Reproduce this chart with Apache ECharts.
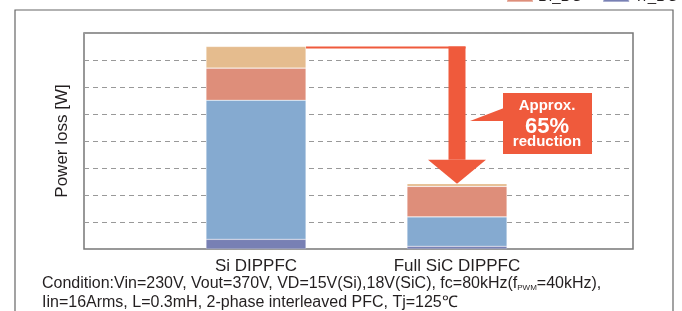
<!DOCTYPE html>
<html>
<head>
<meta charset="utf-8">
<script src="https://cdn.jsdelivr.net/npm/echarts@6/dist/echarts.min.js"></script>
<style>
  html, body { margin: 0; padding: 0; background: #fff; }
  #loss { width: 682px; height: 311px; }
</style>
</head>
<body>
<div id="loss"></div>
<script>
// 损耗对比（堆叠柱状图）
var categories = ['Si DIPPFC', 'Full SiC DIPPFC'];
var trDC = [0.36, 0.10];
var trSW = [5.15, 1.09];
var diDC = [1.19, 1.13];
var diSW = [0.80, 0.10];
var yTicks = [0, 1, 2, 3, 4, 5, 6, 7, 8];

var FONT = 'Liberation Sans';
var RED = '#ef5a3c';

function DrawLoss() {
    var chart = echarts.init(document.getElementById('loss'));
    function bar(name, data, color) {
        return {
            name: name,
            type: 'bar',
            stack: 'loss',
            xAxisIndex: 1,
            yAxisIndex: 1,
            barWidth: 100,
            itemStyle: { color: color, borderColor: 'rgba(255,255,255,0.35)', borderWidth: 0.6 },
            data: data
        };
    }
    var option = {
        animation: false,
        textStyle: { fontFamily: FONT },
        legend: {
            data: ['Di_DC', 'Tr_DC'],
            orient: 'horizontal',
            left: 506,
            top: -11,
            padding: 0,
            width: 176,
            itemWidth: 26,
            itemHeight: 11,
            itemGap: 20,
            icon: 'rect',
            textStyle: { fontSize: 15, color: '#231f20', fontFamily: FONT }
        },
        grid: [
            // 外框 + 网格线
            { left: 84, right: 49, top: 33, bottom: 62, show: true, borderColor: '#777', borderWidth: 1.5 },
            // 柱子所在区域
            { left: 155.5, right: 124.5, top: 33, bottom: 62 }
        ],
        xAxis: [
            { type: 'category', gridIndex: 0, data: categories, show: false },
            {
                type: 'category', gridIndex: 1, data: categories,
                axisLine: { show: false },
                axisTick: { show: false },
                axisLabel: { fontSize: 17, color: '#231f20', margin: 9 }
            }
        ],
        yAxis: [
            {
                type: 'value', gridIndex: 0,
                min: yTicks[0], max: yTicks[yTicks.length - 1], interval: 1,
                name: 'Power loss [W]',
                nameLocation: 'middle',
                nameGap: 13,
                nameTextStyle: { fontSize: 17, color: '#231f20' },
                axisLine: { show: false },
                axisTick: { show: false },
                axisLabel: { show: false },
                splitLine: { lineStyle: { color: '#999', type: [5, 4], width: 1.2 } }
            },
            {
                type: 'value', gridIndex: 1,
                min: yTicks[0], max: yTicks[yTicks.length - 1], interval: 1,
                show: false, splitLine: { show: false }
            }
        ],
        series: [
            bar('Tr_DC', trDC, '#7880b4'),
            bar('Tr_SW', trSW, '#85aad0'),
            bar('Di_DC', diDC, '#de8e7a'),
            bar('Di_SW', diSW, '#e5bc8e')
        ]
    };
    chart.setOption(option);

    // 箭头（根据柱顶位置）
    var siTotal = trDC[0] + trSW[0] + diDC[0] + diSW[0];
    var sicTotal = trDC[1] + trSW[1] + diDC[1] + diSW[1];
    var pSi = chart.convertToPixel({ xAxisIndex: 1, yAxisIndex: 1 }, [categories[0], siTotal]);
    var pSic = chart.convertToPixel({ xAxisIndex: 1, yAxisIndex: 1 }, [categories[1], sicTotal]);
    var ax = pSic[0];
    var topY = pSi[1];
    var tipY = pSic[1];

    chart.setOption({
        graphic: [
            // 外框
            { type: 'rect', silent: true, shape: { x: 15, y: 10, width: 658, height: 320 },
              style: { fill: 'none', stroke: '#666', lineWidth: 1.2 } },
            // 横线
            { type: 'rect', shape: { x: pSi[0] + 50, y: topY, width: ax + 8.5 - pSi[0] - 50, height: 2 },
              style: { fill: RED } },
            // 竖杆
            { type: 'rect', shape: { x: ax - 8.5, y: topY, width: 17, height: tipY - 24 - topY },
              style: { fill: RED } },
            // 箭头
            { type: 'polygon', shape: { points: [[ax - 29, tipY - 24], [ax + 29, tipY - 24], [ax, tipY]] },
              style: { fill: RED } },
            // 标注框
            { type: 'polygon', shape: { points: [[470, 121], [504, 108], [504, 121]] },
              style: { fill: RED } },
            { type: 'rect', shape: { x: 503, y: 93, width: 89, height: 61 },
              style: { fill: RED } },
            { type: 'text', x: 547, y: 106,
              style: { text: 'Approx.', fill: '#fff', font: 'bold 15px "Liberation Sans"', align: 'center', verticalAlign: 'middle' } },
            { type: 'text', x: 547, y: 127,
              style: { text: '65%', fill: '#fff', font: 'bold 22px "Liberation Sans"', align: 'center', verticalAlign: 'middle' } },
            { type: 'text', x: 547, y: 142,
              style: { text: 'reduction', fill: '#fff', font: 'bold 15px "Liberation Sans"', align: 'center', verticalAlign: 'middle' } },
            // 条件说明
            { type: 'text', x: 42, y: 284,
              style: {
                  text: 'Condition:Vin=230V, Vout=370V, VD=15V(Si),18V(SiC), fc=80kHz(f{sub|PWM}=40kHz),',
                  fill: '#231f20', font: '16px "Liberation Sans"', verticalAlign: 'middle',
                  rich: { sub: { fontSize: 8, fontFamily: FONT, fill: '#231f20', verticalAlign: 'bottom', padding: [6, 0, 0, 0] } }
              } },
            { type: 'text', x: 42, y: 303,
              style: { text: 'Iin=16Arms, L=0.3mH, 2-phase interleaved PFC, Tj=125\u2103',
                  fill: '#231f20', font: '16px "Liberation Sans"', verticalAlign: 'middle' } }
        ]
    });
}

DrawLoss();
</script>
</body>
</html>
